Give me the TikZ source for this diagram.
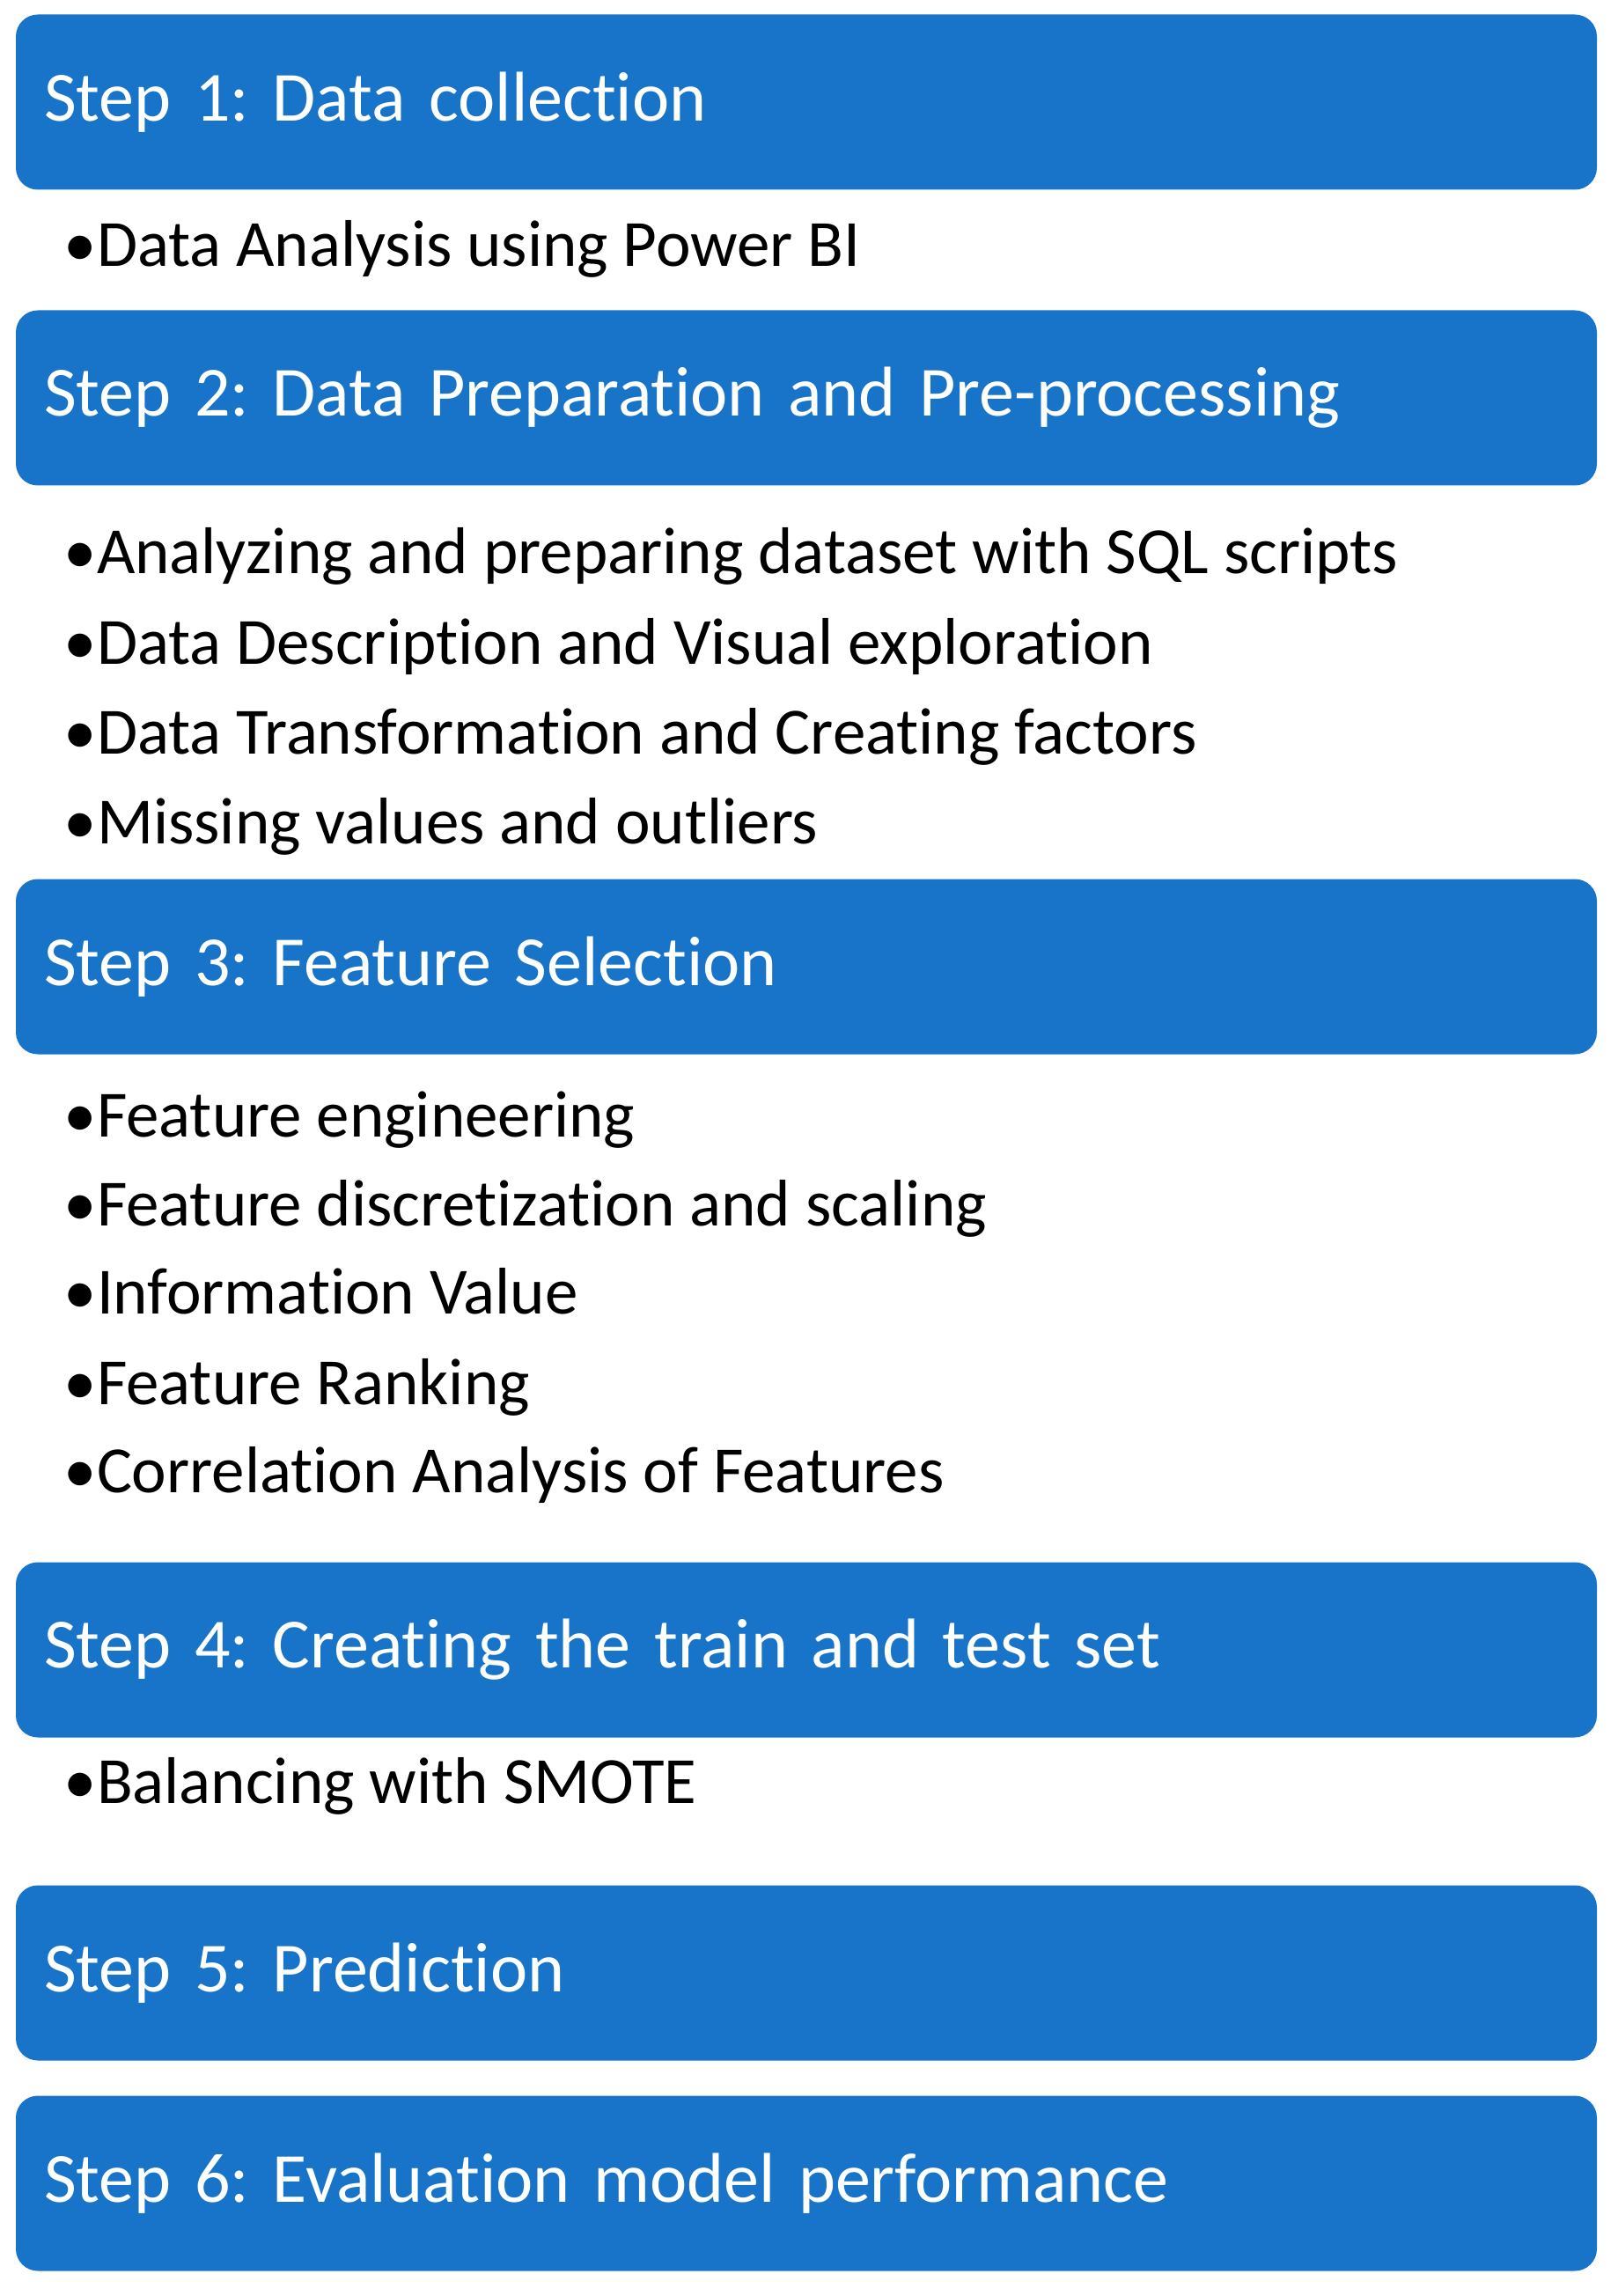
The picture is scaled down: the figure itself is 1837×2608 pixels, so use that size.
\documentclass[tikz,border=0pt]{standalone}
\usepackage{fontspec}
\setmainfont{Carlito}[Ligatures=NoCommon]
\frenchspacing
\definecolor{stepblue}{RGB}{24,116,200}
\begin{document}
\begin{tikzpicture}[x=0.3pt,y=-0.3pt,
    stepbox/.style={fill=stepblue,rounded corners=7.5pt,text=white,
        minimum height=59.7pt,text width=519.6pt,inner xsep=9.6pt,align=left,
        font=\fontsize{24}{29}\selectfont},
    item/.style={anchor=base west,inner sep=0pt,font=\fontsize{22.5}{26}\selectfont}]
    \useasboundingbox (0,0) rectangle (1837,2608);
    \node[stepbox] (s1) at (916,116) {Step 1: Data collection};
    \node[item] (s1a) at (72,303) {\textbullet Data Analysis using Power BI};
    \node[stepbox] (s2) at (916,452) {Step 2: Data Preparation and Pre-processing};
    \node[item] (s2a) at (72,652) {\textbullet Analyzing and preparing dataset with SQL scripts};
    \node[item] (s2b) at (72,755) {\textbullet Data Description and Visual exploration};
    \node[item] (s2c) at (72,857) {\textbullet Data Transformation and Creating factors};
    \node[item] (s2d) at (72,958) {\textbullet Missing values and outliers};
    \node[stepbox] (s3) at (916,1098) {Step 3: Feature Selection};
    \node[item] (s3a) at (72,1291) {\textbullet Feature engineering};
    \node[item] (s3b) at (72,1392) {\textbullet Feature discretization and scaling};
    \node[item] (s3c) at (72,1492) {\textbullet Information Value};
    \node[item] (s3d) at (72,1595) {\textbullet Feature Ranking};
    \node[item] (s3e) at (72,1695) {\textbullet Correlation Analysis of Features};
    \node[stepbox] (s4) at (916,1874) {Step 4: Creating the train and test set};
    \node[item] (s4a) at (72,2048) {\textbullet Balancing with SMOTE};
    \node[stepbox] (s5) at (916,2241) {Step 5: Prediction};
    \node[stepbox] (s6) at (916,2480) {Step 6: Evaluation model performance};
\end{tikzpicture}
\end{document}
